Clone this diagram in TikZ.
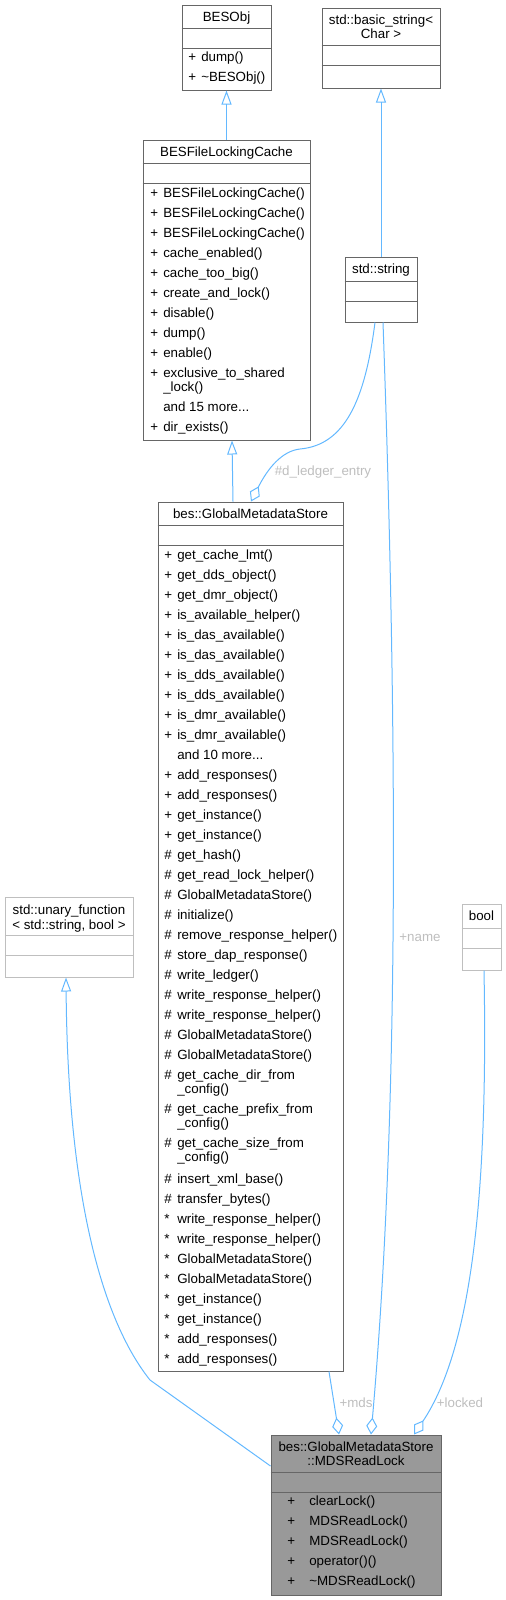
\documentclass[tikz,border=0pt]{standalone}
\usepackage{fontspec}
\setmainfont{Liberation Sans}
\usetikzlibrary{arrows.meta,fit}

\definecolor{edgeblue}{HTML}{63B8FF}
\definecolor{boxgray}{HTML}{666666}
\definecolor{extgray}{HTML}{BFBFBF}
\definecolor{lblgray}{HTML}{BEBEBE}
\definecolor{curfill}{HTML}{999999}

\newcommand{\vis}[2][9.75pt]{\makebox[#1][l]{#2}}

\tikzset{
  cls/.style={draw=boxgray, line width=0.75pt, inner sep=0pt},
  extcls/.style={cls, draw=extgray},
  sepline/.style={draw=boxgray, line width=0.75pt},
  extsep/.style={draw=extgray, line width=0.75pt},
  ttl/.style={inner sep=0pt, text height=7pt, text depth=0pt},
  row/.style={ttl, anchor=west},
  lbl/.style={ttl, text=lblgray},
  inherit/.style={draw=edgeblue, line width=0.75pt, -{Triangle[open, length=10.5pt, width=7.5pt]}},
  member/.style={draw=edgeblue, line width=0.75pt, -{Diamond[open, length=12.75pt, width=8.25pt]}},
}

\begin{document}
\begin{tikzpicture}[x=0.75pt, y=-0.75pt, font=\fontsize{10}{12}\selectfont]
  \useasboundingbox (0,0) rectangle (506,1600);

  % BESObj
  \node[cls, fit={(182,5) (271,90)}] (besobj) {};
  \draw[sepline] (besobj.west |- 0,28) -- (besobj.east |- 0,28);
  \draw[sepline] (besobj.west |- 0,48) -- (besobj.east |- 0,48);
  \node[ttl] (besobjT) at (226.5,17) {BESObj};
  \node[row] (besobjR1) at (188,57) {\vis{+}dump()};
  \node[row] (besobjR2) at (188,77) {\vis{+}\textasciitilde BESObj()};

  % std::basic_string< Char >
  \node[cls, fit={(322,8) (440,88)}] (bstr) {};
  \draw[sepline] (bstr.west |- 0,45) -- (bstr.east |- 0,45);
  \draw[sepline] (bstr.west |- 0,65) -- (bstr.east |- 0,65);
  \node[ttl] (bstrT1) at (381,20) {std::basic\_string<};
  \node[ttl] (bstrT2) at (381,34) {Char >};

  % BESFileLockingCache
  \node[cls, fit={(143,140) (310,440)}] (besflc) {};
  \draw[sepline] (besflc.west |- 0,163) -- (besflc.east |- 0,163);
  \draw[sepline] (besflc.west |- 0,183) -- (besflc.east |- 0,183);
  \node[ttl] (besflcT) at (226.5,152) {BESFileLockingCache};
  \node[row] (besflcR1) at (150,193) {\vis{+}BESFileLockingCache()};
  \node[row] (besflcR2) at (150,213) {\vis{+}BESFileLockingCache()};
  \node[row] (besflcR3) at (150,233) {\vis{+}BESFileLockingCache()};
  \node[row] (besflcR4) at (150,253) {\vis{+}cache\_enabled()};
  \node[row] (besflcR5) at (150,273) {\vis{+}cache\_too\_big()};
  \node[row] (besflcR6) at (150,293) {\vis{+}create\_and\_lock()};
  \node[row] (besflcR7) at (150,313) {\vis{+}disable()};
  \node[row] (besflcR8) at (150,333) {\vis{+}dump()};
  \node[row] (besflcR9) at (150,353) {\vis{+}enable()};
  \node[row] (besflcR10) at (150,373) {\vis{+}exclusive\_to\_shared};
  \node[row] (besflcR10b) at (163,387) {\_lock()};
  \node[row] (besflcR11) at (150,407) {\vis{}and 15 more...};
  \node[row] (besflcR12) at (150,427) {\vis{+}dir\_exists()};

  % std::string
  \node[cls, fit={(345,257) (417,322)}] (stdstr) {};
  \draw[sepline] (stdstr.west |- 0,281) -- (stdstr.east |- 0,281);
  \draw[sepline] (stdstr.west |- 0,301) -- (stdstr.east |- 0,301);
  \node[ttl] (stdstrT) at (381,269) {std::string};

  % bes::GlobalMetadataStore
  \node[cls, fit={(158,502) (343,1371)}] (gms) {};
  \draw[sepline] (gms.west |- 0,525) -- (gms.east |- 0,525);
  \draw[sepline] (gms.west |- 0,545) -- (gms.east |- 0,545);
  \node[ttl] (gmsT) at (250.5,514) {bes::GlobalMetadataStore};
  \node[row] (gmsR1) at (164,555) {\vis{+}get\_cache\_lmt()};
  \node[row] (gmsR2) at (164,575) {\vis{+}get\_dds\_object()};
  \node[row] (gmsR3) at (164,595) {\vis{+}get\_dmr\_object()};
  \node[row] (gmsR4) at (164,615) {\vis{+}is\_available\_helper()};
  \node[row] (gmsR5) at (164,635) {\vis{+}is\_das\_available()};
  \node[row] (gmsR6) at (164,655) {\vis{+}is\_das\_available()};
  \node[row] (gmsR7) at (164,675) {\vis{+}is\_dds\_available()};
  \node[row] (gmsR8) at (164,695) {\vis{+}is\_dds\_available()};
  \node[row] (gmsR9) at (164,715) {\vis{+}is\_dmr\_available()};
  \node[row] (gmsR10) at (164,735) {\vis{+}is\_dmr\_available()};
  \node[row] (gmsR11) at (164,755) {\vis{}and 10 more...};
  \node[row] (gmsR12) at (164,775) {\vis{+}add\_responses()};
  \node[row] (gmsR13) at (164,795) {\vis{+}add\_responses()};
  \node[row] (gmsR14) at (164,815) {\vis{+}get\_instance()};
  \node[row] (gmsR15) at (164,835) {\vis{+}get\_instance()};
  \node[row] (gmsR16) at (164,855) {\vis{\#}get\_hash()};
  \node[row] (gmsR17) at (164,875) {\vis{\#}get\_read\_lock\_helper()};
  \node[row] (gmsR18) at (164,895) {\vis{\#}GlobalMetadataStore()};
  \node[row] (gmsR19) at (164,915) {\vis{\#}initialize()};
  \node[row] (gmsR20) at (164,935) {\vis{\#}remove\_response\_helper()};
  \node[row] (gmsR21) at (164,955) {\vis{\#}store\_dap\_response()};
  \node[row] (gmsR22) at (164,975) {\vis{\#}write\_ledger()};
  \node[row] (gmsR23) at (164,995) {\vis{\#}write\_response\_helper()};
  \node[row] (gmsR24) at (164,1015) {\vis{\#}write\_response\_helper()};
  \node[row] (gmsR25) at (164,1035) {\vis{\#}GlobalMetadataStore()};
  \node[row] (gmsR26) at (164,1055) {\vis{\#}GlobalMetadataStore()};
  \node[row] (gmsR27) at (164,1075) {\vis{\#}get\_cache\_dir\_from};
  \node[row] (gmsR27b) at (177,1089) {\_config()};
  \node[row] (gmsR28) at (164,1109) {\vis{\#}get\_cache\_prefix\_from};
  \node[row] (gmsR28b) at (177,1123) {\_config()};
  \node[row] (gmsR29) at (164,1143) {\vis{\#}get\_cache\_size\_from};
  \node[row] (gmsR29b) at (177,1157) {\_config()};
  \node[row] (gmsR30) at (164,1179) {\vis{\#}insert\_xml\_base()};
  \node[row] (gmsR31) at (164,1199) {\vis{\#}transfer\_bytes()};
  \node[row] (gmsR32) at (164,1219) {\vis{*}write\_response\_helper()};
  \node[row] (gmsR33) at (164,1239) {\vis{*}write\_response\_helper()};
  \node[row] (gmsR34) at (164,1259) {\vis{*}GlobalMetadataStore()};
  \node[row] (gmsR35) at (164,1279) {\vis{*}GlobalMetadataStore()};
  \node[row] (gmsR36) at (164,1299) {\vis{*}get\_instance()};
  \node[row] (gmsR37) at (164,1319) {\vis{*}get\_instance()};
  \node[row] (gmsR38) at (164,1339) {\vis{*}add\_responses()};
  \node[row] (gmsR39) at (164,1359) {\vis{*}add\_responses()};

  % std::unary_function< std::string, bool >
  \node[extcls, fit={(5,897) (133,977)}] (unary) {};
  \draw[extsep] (unary.west |- 0,935) -- (unary.east |- 0,935);
  \draw[extsep] (unary.west |- 0,955) -- (unary.east |- 0,955);
  \node[ttl] (unaryT1) at (69,910) {std::unary\_function};
  \node[ttl] (unaryT2) at (69,925) {< std::string, bool >};

  % bool
  \node[extcls, fit={(462,904) (501,970)}] (bool) {};
  \draw[extsep] (bool.west |- 0,928) -- (bool.east |- 0,928);
  \draw[extsep] (bool.west |- 0,948) -- (bool.east |- 0,948);
  \node[ttl] (boolT) at (481.5,916) {bool};

  % bes::GlobalMetadataStore::MDSReadLock
  \node[cls, fill=curfill, fit={(271,1435) (441,1595)}] (mds) {};
  \draw[sepline] (mds.west |- 0,1472) -- (mds.east |- 0,1472);
  \draw[sepline] (mds.west |- 0,1492) -- (mds.east |- 0,1492);
  \node[ttl] (mdsT1) at (356,1447) {bes::GlobalMetadataStore};
  \node[ttl] (mdsT2) at (356,1461) {::MDSReadLock};
  \node[row] (mdsR1) at (287,1501) {\vis[16.5pt]{+}clearLock()};
  \node[row] (mdsR2) at (287,1521) {\vis[16.5pt]{+}MDSReadLock()};
  \node[row] (mdsR3) at (287,1541) {\vis[16.5pt]{+}MDSReadLock()};
  \node[row] (mdsR4) at (287,1561) {\vis[16.5pt]{+}operator()()};
  \node[row] (mdsR5) at (287,1581) {\vis[16.5pt]{+}\textasciitilde MDSReadLock()};

  % inheritance
  \draw[inherit] (besflc.north) -- (besobj.south);
  \draw[inherit] (stdstr.north) -- (bstr.south);
  \draw[inherit] (gms.north -| 233,0) -- (besflc.south -| 232,0);
  \draw[inherit] (mds.west |- 0,1466) -- (150,1380)
    .. controls (110,1330) and (68,1220) .. (unary.south -| 66,0);

  % members
  \draw[member] (stdstr.south -| 375,0) .. controls (365,400) and (345,445) .. (300,449)
    .. controls (282,451) and (268,468) .. (gms.north -| 251,0);
  \draw[member] (gms.south -| 329,0) -- (mds.north -| 339,0);
  \draw[member] (stdstr.south -| 383,0) .. controls (400,800) and (396,1150) .. (mds.north -| 371,0);
  \draw[member] (bool.south -| 484,0) .. controls (488,1180) and (474,1345) .. (mds.north -| 414,0);

  % edge labels
  \node[lbl] (ledgerL) at (323,471) {\#d\_ledger\_entry};
  \node[lbl] (nameL) at (420,937) {+name};
  \node[lbl] (mdsL) at (356,1403) {+mds};
  \node[lbl] (lockedL) at (460,1403) {+locked};
\end{tikzpicture}
\end{document}
